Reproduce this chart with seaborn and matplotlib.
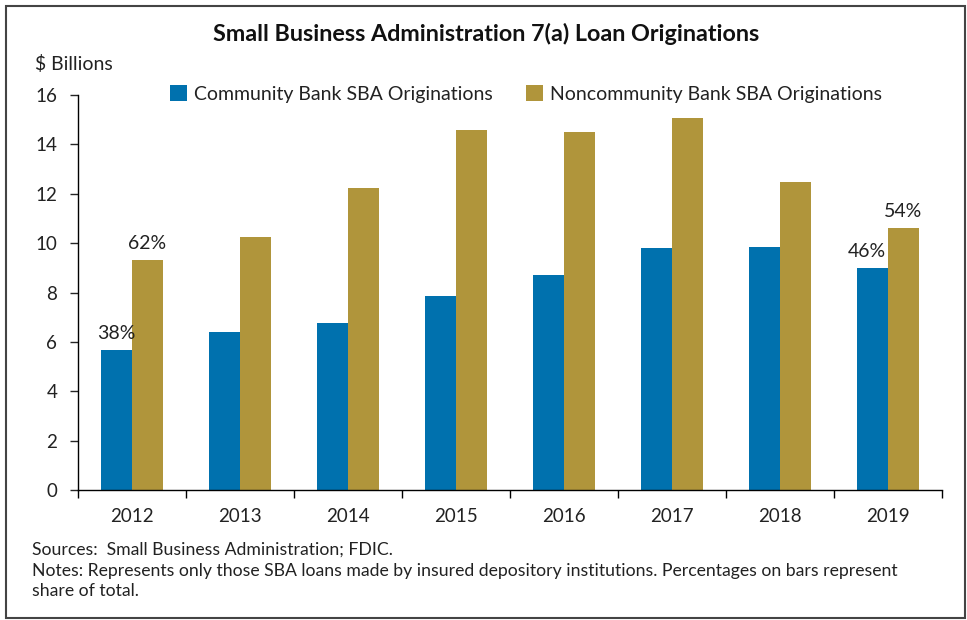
import matplotlib
matplotlib.use("Agg")
import numpy as np
import pandas as pd
import matplotlib.pyplot as plt
import seaborn as sns
from matplotlib.patches import Rectangle

# chart data ($ billions)
years = ["2012", "2013", "2014", "2015", "2016", "2017", "2018", "2019"]
community = [5.67, 6.40, 6.76, 7.86, 8.71, 9.80, 9.84, 8.99]
noncommunity = [9.32, 10.25, 12.23, 14.58, 14.50, 15.07, 12.47, 10.61]
series = ["Community Bank SBA Originations", "Noncommunity Bank SBA Originations"]
colors = ["#0071AE", "#B0953B"]
# share labels on first and last year
share_labels = {"2012": ("38%", "62%"), "2019": ("46%", "54%")}

df = pd.DataFrame({
    "year": years * 2,
    "value": community + noncommunity,
    "series": [series[0]] * len(years) + [series[1]] * len(years),
})

sns.set_style("ticks")
plt.rcParams["font.family"] = ["Lato", "DejaVu Sans"]
plt.rcParams["text.color"] = "#222222"

W, H = 967, 620
fig = plt.figure(figsize=(W / 100, H / 100), dpi=100)
ax = fig.add_axes([78 / W, 1 - 490 / H, (942 - 78) / W, (490 - 95) / H])

sns.barplot(data=df, x="year", y="value", hue="series", palette=colors,
            width=0.57, saturation=1, linewidth=0, ax=ax)

# percentage labels
for yr, (lab_c, lab_n) in share_labels.items():
    i = years.index(yr)
    for k, lab in enumerate((lab_c, lab_n)):
        bar = ax.containers[k][i]
        dx = -4 if (k == 0 and i == len(years) - 1) else 0
        ax.annotate(lab, (bar.get_x() + bar.get_width() / 2, bar.get_height()),
                    xytext=(dx, 6), textcoords="offset points",
                    ha="center", va="bottom", fontsize=14, color="#222222")

ax.set_ylim(0, 16)
ax.set_yticks(range(0, 17, 2))
ax.set_xlim(-0.5, len(years) - 0.5)
ax.set_xticks(np.arange(-0.5, len(years), 1))
ax.set_xticklabels([])
ax.set_xticks(range(len(years)), minor=True)
ax.set_xticklabels(years, minor=True)
ax.tick_params(axis="x", which="minor", length=0, pad=13, labelsize=13.5, labelcolor="#222222")
ax.tick_params(axis="x", which="major", length=6, width=1, color="black")
ax.tick_params(axis="y", length=6, width=1, pad=9, labelsize=13.5, labelcolor="#222222")
ax.set_xlabel("")
ax.set_ylabel("")
sns.despine(ax=ax)
for s in ("left", "bottom"):
    ax.spines[s].set_color("black")
    ax.spines[s].set_linewidth(1)

ax.legend(loc="center left", bbox_to_anchor=(152 / W, 1 - 94 / H),
          bbox_transform=fig.transFigure, ncol=2, frameon=False,
          handlelength=0.9, handleheight=0.9, handletextpad=0.35,
          columnspacing=1.7, fontsize=14)

fig.text(486 / W, 1 - 34 / H, "Small Business Administration 7(a) Loan Originations",
         ha="center", va="center", fontsize=16.8, fontweight="bold", color="#111111")
fig.text(35 / W, 1 - 64 / H, "$ Billions", ha="left", va="center", fontsize=14)
fig.text(32 / W, 1 - 550 / H, "Sources:  Small Business Administration; FDIC.",
         ha="left", va="center", fontsize=12.7)
fig.text(32 / W, 1 - 571 / H,
         "Notes: Represents only those SBA loans made by insured depository institutions. "
         "Percentages on bars represent",
         ha="left", va="center", fontsize=12.7)
fig.text(32 / W, 1 - 591 / H, "share of total.", ha="left", va="center", fontsize=12.7)

# outer frame
fig.patches.append(Rectangle((6 / W, 2 / H), 959 / W, 612 / H, transform=fig.transFigure,
                             fill=False, edgecolor="#444444", linewidth=1.5))

fig.savefig("out.png", dpi=100)
